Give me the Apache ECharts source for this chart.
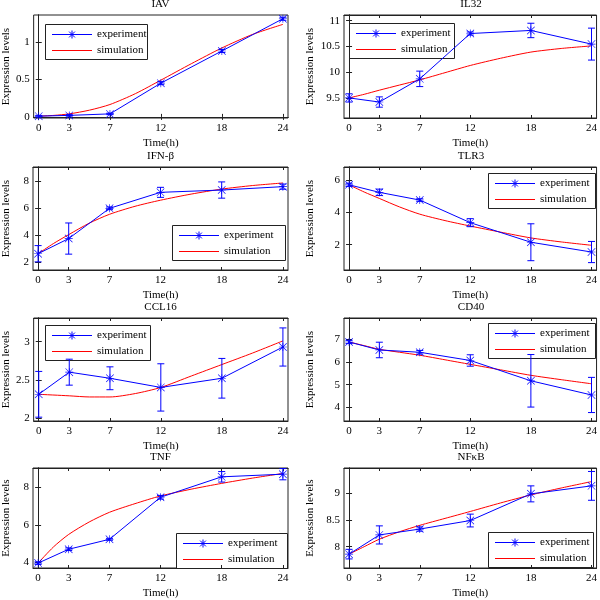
<!DOCTYPE html>
<html>
<head>
<meta charset="utf-8">
<script src="https://cdn.jsdelivr.net/npm/echarts@6/dist/echarts.min.js"></script>
<style>
  html, body { margin: 0; padding: 0; background: #fff; }
  #chart { width: 600px; height: 600px; }
</style>
</head>
<body>
<div id="chart"></div>
<script>
// time points (h)
const times = [0, 3, 7, 12, 18, 24];
const simTimes = [0, 1.5, 3, 5, 7, 9.5, 12, 15, 18, 21, 24];
const genes = ['IAV', 'IL32', 'IFN-β', 'TLR3', 'CCL16', 'CD40', 'TNF', 'NFκB'];
const legendNames = ['experiment', 'simulation'];

// experiment means / error bars / simulation curves
const expIAV = [0.01, 0.02, 0.04, 0.45, 0.88, 1.31];
const errIAV = [0.01, 0.01, 0.01, 0.02, 0.02, 0.02];
const simIAV = [0.01, 0.02, 0.04, 0.09, 0.165, 0.31, 0.49, 0.71, 0.92, 1.10, 1.235];

const expIL32 = [9.5, 9.42, 9.87, 10.75, 10.81, 10.545];
const errIL32 = [0.08, 0.1, 0.15, 0.03, 0.14, 0.31];
const simIL32 = [9.5, 9.57, 9.65, 9.75, 9.85, 9.99, 10.13, 10.27, 10.39, 10.46, 10.51];

const expIFN = [2.65, 3.77, 6.0, 7.18, 7.35, 7.6];
const errIFN = [0.6, 1.15, 0.1, 0.37, 0.6, 0.19];
const simIFN = [2.65, 3.4, 4.06, 4.9, 5.56, 6.15, 6.6, 7.05, 7.42, 7.68, 7.87];

const expTLR3 = [5.73, 5.26, 4.78, 3.37, 2.15, 1.54];
const errTLR3 = [0.1, 0.2, 0.08, 0.25, 1.15, 0.66];
const simTLR3 = [5.73, 5.28, 4.88, 4.35, 3.9, 3.5, 3.16, 2.78, 2.42, 2.17, 1.96];

const expCCL16 = [2.31, 2.60, 2.52, 2.40, 2.52, 2.93];
const errCCL16 = [0.3, 0.17, 0.15, 0.31, 0.26, 0.25];
const simCCL16 = [2.31, 2.30, 2.29, 2.275, 2.275, 2.32, 2.40, 2.55, 2.70, 2.85, 3.01];

const expCD40 = [6.87, 6.52, 6.42, 6.06, 5.17, 4.55];
const errCD40 = [0.07, 0.34, 0.08, 0.25, 1.15, 0.77];
const simCD40 = [6.87, 6.71, 6.55, 6.42, 6.29, 6.09, 5.89, 5.65, 5.41, 5.22, 5.04];

const expTNF = [3.96, 4.70, 5.23, 7.47, 8.56, 8.70];
const errTNF = [0.07, 0.07, 0.05, 0.1, 0.28, 0.3];
const simTNF = [3.96, 4.82, 5.49, 6.15, 6.67, 7.13, 7.54, 7.9, 8.21, 8.49, 8.74];

const expNFKB = [7.86, 8.22, 8.33, 8.49, 8.99, 9.14];
const errNFKB = [0.09, 0.17, 0.04, 0.12, 0.15, 0.27];
const simNFKB = [7.86, 8.0, 8.14, 8.28, 8.40, 8.53, 8.66, 8.82, 8.97, 9.10, 9.22];

// y tick labels
const yTicksIAV = [0, 0.5, 1];
const yTicksIL32 = [9.5, 10, 10.5, 11];
const yTicksIFN = [2, 4, 6, 8];
const yTicksTLR3 = [2, 4, 6];
const yTicksCCL16 = [2, 2.5, 3];
const yTicksCD40 = [4, 5, 6, 7];
const yTicksTNF = [4, 6, 8];
const yTicksNFKB = [8, 8.5, 9];

const expAll = [expIAV, expIL32, expIFN, expTLR3, expCCL16, expCD40, expTNF, expNFKB];
const errAll = [errIAV, errIL32, errIFN, errTLR3, errCCL16, errCD40, errTNF, errNFKB];
const simAll = [simIAV, simIL32, simIFN, simTLR3, simCCL16, simCD40, simTNF, simNFKB];
const ticksAll = [yTicksIAV, yTicksIL32, yTicksIFN, yTicksTLR3, yTicksCCL16, yTicksCD40, yTicksTNF, yTicksNFKB];

// axis ranges and legend spots, per panel
const yRange = [[-0.015, 1.36], [9.11, 11.11], [1.45, 9.05], [0.42, 6.84],
                [1.96, 3.31], [3.41, 7.92], [3.70, 9.03], [7.6, 9.475]];
const legendPos = [[45, 24, 102], [349, 23, 105], [172, 225, 113], [488, 173, 107],
                   [45, 325, 105], [488, 323, 107], [176, 533, 111], [488, 532, 105]];

const FONT = 'Liberation Serif, Times New Roman, serif';
const BLUE = '#0000ff';
const RED = '#ff0000';
const AXIS = '#222';
// asterisk marker made of 4 thin bars
const STAR = 'path://M0,9.2H20V10.8H0Z M9.2,0H10.8V20H9.2Z M1.1,0L20,18.9L18.9,20L0,1.1Z M18.9,0L20,1.1L1.1,20L0,18.9Z';

const colLeft = [33, 344];
const colWidth = [255, 254];
const rowTop = [15, 167, 318, 468];
const gridH = 103;

let grids = [], xAxes = [], yAxes = [], series = [], texts = [];
let xTop = [], yRight = [];

// legend box drawn as a small group: frame, sample lines, asterisk, labels
function legendBox(left, top, width) {
    const st = (c) => ({ stroke: c, lineWidth: 1 });
    const cx = 27, r = 4, d = 2.9;
    const rows = [10.5, 26.5];
    return {
        type: 'group', x: left, y: top, z: 100,
        children: [
            { type: 'rect', shape: { x: 0.5, y: 0.5, width: width, height: 35 },
              style: { fill: '#fff', stroke: AXIS, lineWidth: 1 } },
            { type: 'line', shape: { x1: 7, y1: rows[0], x2: 47, y2: rows[0] }, style: st(BLUE) },
            { type: 'line', shape: { x1: cx, y1: rows[0] - r, x2: cx, y2: rows[0] + r }, style: st(BLUE) },
            { type: 'line', shape: { x1: cx - d, y1: rows[0] - d, x2: cx + d, y2: rows[0] + d }, style: st(BLUE) },
            { type: 'line', shape: { x1: cx - d, y1: rows[0] + d, x2: cx + d, y2: rows[0] - d }, style: st(BLUE) },
            { type: 'line', shape: { x1: 7, y1: rows[1], x2: 47, y2: rows[1] }, style: st(RED) },
            { type: 'text', x: 52, y: rows[0],
              style: { text: legendNames[0], fill: '#000', font: '11px ' + FONT, verticalAlign: 'middle' } },
            { type: 'text', x: 52, y: rows[1],
              style: { text: legendNames[1], fill: '#000', font: '11px ' + FONT, verticalAlign: 'middle' } }
        ]
    };
}

genes.forEach((g, i) => {
    const col = i % 2, row = Math.floor(i / 2);
    grids.push({
        left: colLeft[col], top: rowTop[row], width: colWidth[col], height: gridH,
        show: true, borderColor: AXIS, borderWidth: 1, backgroundColor: '#fff'
    });
    xAxes.push({
        type: 'value', gridIndex: i, min: -0.5, max: 24.5,
        name: 'Time(h)', nameLocation: 'middle', nameGap: 20,
        nameTextStyle: { color: '#000', fontFamily: FONT, fontSize: 11 },
        axisLine: { show: true, lineStyle: { color: AXIS, width: 1 } },
        axisTick: { show: true, inside: true, length: 3, lineStyle: { color: AXIS }, customValues: times },
        axisLabel: { color: '#000', fontFamily: FONT, fontSize: 11, margin: 5, customValues: times },
        splitLine: { show: false }
    });
    yAxes.push({
        type: 'value', gridIndex: i, min: yRange[i][0], max: yRange[i][1],
        name: 'Expression levels', nameLocation: 'middle', nameGap: col === 0 ? 21 : 28,
        nameTextStyle: { color: '#000', fontFamily: FONT, fontSize: 11 },
        axisLine: { show: true, lineStyle: { color: AXIS, width: 1 } },
        axisTick: { show: true, inside: true, length: 3, lineStyle: { color: AXIS }, customValues: ticksAll[i] },
        axisLabel: { color: '#000', fontFamily: FONT, fontSize: 11, margin: 4, customValues: ticksAll[i] },
        splitLine: { show: false }
    });
    // mirrored ticks on top and right of each box
    xTop.push({
        type: 'value', gridIndex: i, position: 'top', min: -0.5, max: 24.5,
        axisLine: { show: true, lineStyle: { color: AXIS } },
        axisTick: { show: true, inside: true, length: 3, lineStyle: { color: AXIS }, customValues: times },
        axisLabel: { show: false }, splitLine: { show: false }
    });
    yRight.push({
        type: 'value', gridIndex: i, position: 'right', min: yRange[i][0], max: yRange[i][1],
        axisLine: { show: true, lineStyle: { color: AXIS } },
        axisTick: { show: true, inside: true, length: 3, lineStyle: { color: AXIS }, customValues: ticksAll[i] },
        axisLabel: { show: false }, splitLine: { show: false }
    });
    texts.push({
        type: 'text', x: colLeft[col] + colWidth[col] / 2, y: rowTop[row] - 11,
        style: { text: g, fill: '#000', font: '11px ' + FONT, align: 'center', verticalAlign: 'middle' }
    });
    texts.push(legendBox(legendPos[i][0], legendPos[i][1], legendPos[i][2]));

    series.push({
        name: legendNames[0], type: 'line', xAxisIndex: i, yAxisIndex: i,
        data: times.map((t, k) => [t, expAll[i][k]]),
        symbol: STAR, symbolSize: 8,
        lineStyle: { color: BLUE, width: 1 }, itemStyle: { color: BLUE },
        z: 3, animation: false
    });
    series.push({
        name: legendNames[1], type: 'line', xAxisIndex: i, yAxisIndex: i,
        data: simTimes.map((t, k) => [t, simAll[i][k]]),
        smooth: 0.25, showSymbol: false, symbol: 'none',
        lineStyle: { color: RED, width: 1 }, itemStyle: { color: RED },
        z: 2, animation: false
    });
    series.push({
        type: 'custom', xAxisIndex: i, yAxisIndex: i,
        data: times.map((t, k) => [t, expAll[i][k], errAll[i][k]]),
        encode: { x: 0, y: 1 },
        renderItem: function (params, api) {
            const x = api.value(0), y = api.value(1), e = api.value(2);
            const top = api.coord([x, y + e]);
            const bot = api.coord([x, y - e]);
            const w = 3.5;
            const st = { stroke: BLUE, lineWidth: 1 };
            return {
                type: 'group', children: [
                    { type: 'line', shape: { x1: top[0], y1: top[1], x2: bot[0], y2: bot[1] }, style: st },
                    { type: 'line', shape: { x1: top[0] - w, y1: top[1], x2: top[0] + w, y2: top[1] }, style: st },
                    { type: 'line', shape: { x1: bot[0] - w, y1: bot[1], x2: bot[0] + w, y2: bot[1] }, style: st }
                ]
            };
        },
        z: 3, animation: false
    });
});

const chart = echarts.init(document.getElementById('chart'));
chart.setOption({
    backgroundColor: '#fff',
    animation: false,
    grid: grids,
    xAxis: xAxes.concat(xTop),
    yAxis: yAxes.concat(yRight),
    graphic: texts,
    series: series
});
</script>
</body>
</html>
